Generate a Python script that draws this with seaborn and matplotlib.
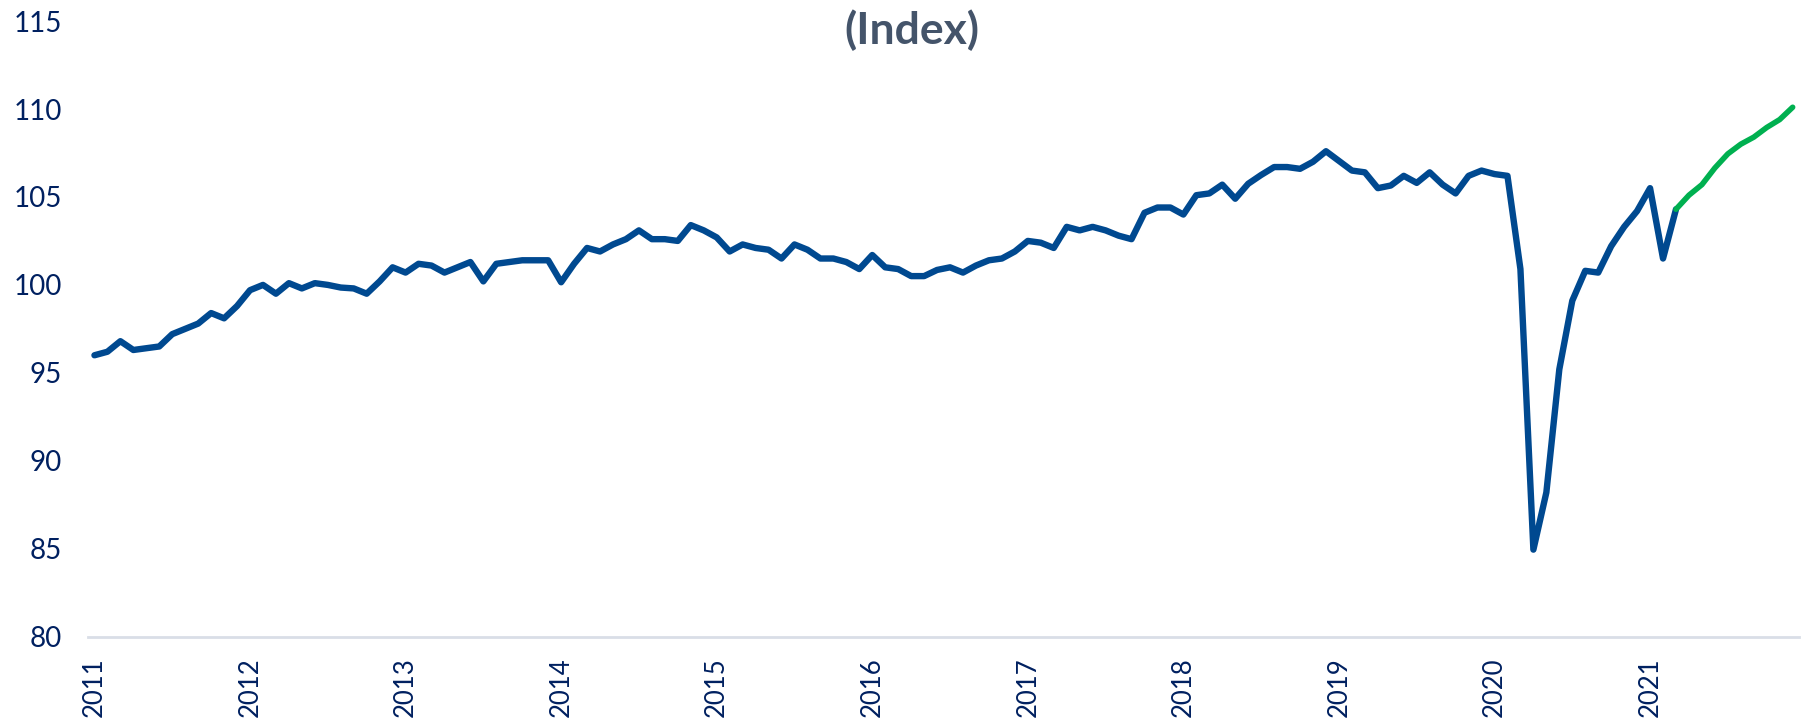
import numpy as np
import pandas as pd
import matplotlib.pyplot as plt
import seaborn as sns

# Monthly index, Jan 2011 onwards
years = [str(y) for y in range(2011, 2022)]

actual = [
    96.0, 96.2, 96.8, 96.3, 96.4, 96.5, 97.2, 97.5, 97.8, 98.4, 98.1, 98.8,            # 2011
    99.7, 100.0, 99.5, 100.1, 99.8, 100.1, 100.0, 99.85, 99.8, 99.5, 100.2, 101.0,     # 2012
    100.7, 101.2, 101.1, 100.7, 101.0, 101.3, 100.2, 101.2, 101.3, 101.4, 101.4, 101.4,  # 2013
    100.15, 101.2, 102.1, 101.9, 102.3, 102.6, 103.1, 102.6, 102.6, 102.5, 103.4, 103.1,  # 2014
    102.7, 101.9, 102.3, 102.1, 102.0, 101.5, 102.3, 102.0, 101.5, 101.5, 101.3, 100.9,  # 2015
    101.7, 101.0, 100.9, 100.5, 100.5, 100.85, 101.0, 100.7, 101.1, 101.4, 101.5, 101.9,  # 2016
    102.5, 102.4, 102.1, 103.3, 103.1, 103.3, 103.1, 102.8, 102.6, 104.1, 104.4, 104.4,  # 2017
    104.0, 105.1, 105.2, 105.7, 104.9, 105.75, 106.25, 106.7, 106.7, 106.6, 107.0, 107.6,  # 2018
    107.05, 106.5, 106.4, 105.5, 105.65, 106.2, 105.8, 106.4, 105.7, 105.2, 106.2, 106.5,  # 2019
    106.3, 106.2, 100.9, 84.95, 88.2, 95.2, 99.1, 100.8, 100.7, 102.2, 103.3, 104.2,     # 2020
    105.5, 101.5, 104.3,                                                                  # 2021 Jan-Mar
]

# projection, Mar 2021 - Dec 2021
forecast = [104.3, 105.1, 105.7, 106.65, 107.45, 108.0, 108.4, 108.95, 109.4, 110.1]

start = len(actual) - 1
df_actual = pd.DataFrame({"month": range(len(actual)), "value": actual})
df_fcst = pd.DataFrame({"month": range(start, start + len(forecast)), "value": forecast})

sns.set_style("white")
plt.rcParams['font.family'] = ['Lato', 'DejaVu Sans']

fig, ax = plt.subplots(figsize=(18.1, 7.26), dpi=100)
fig.subplots_adjust(left=0.0486, right=0.994, top=0.971, bottom=0.123)

sns.lineplot(data=df_actual, x="month", y="value", color="#004990", linewidth=4.6,
             solid_joinstyle='round', solid_capstyle='round', ax=ax)
sns.lineplot(data=df_fcst, x="month", y="value", color="#00B050", linewidth=4.0,
             solid_joinstyle='round', solid_capstyle='round', ax=ax)

ax.set_xlim(-0.5, 131.5)
ax.set_ylim(80, 115)
ax.set_yticks(range(80, 116, 5))
ax.set_xticks(range(0, 132, 12))
ax.set_xticklabels(years, rotation=90)
ax.set_xticks(np.arange(-0.5, 132, 1), minor=True)

ax.tick_params(axis='x', which='major', length=0, pad=15, labelsize=18.5, labelcolor='#002060')
ax.tick_params(axis='x', which='minor', length=7, width=1.6, color='#D9DEE7', direction='out')
ax.tick_params(axis='y', length=0, pad=19, labelsize=20, labelcolor='#002060')

for s in ['top', 'right', 'left']:
    ax.spines[s].set_visible(False)
ax.spines['bottom'].set_color('#D9DEE7')
ax.spines['bottom'].set_linewidth(2)
ax.set_xlabel('')
ax.set_ylabel('')

fig.text(0.504, 0.958, "(Index)", ha='center', va='center', fontsize=32,
         fontweight='bold', color='#44546A')

fig.savefig('out.png', dpi=100)
